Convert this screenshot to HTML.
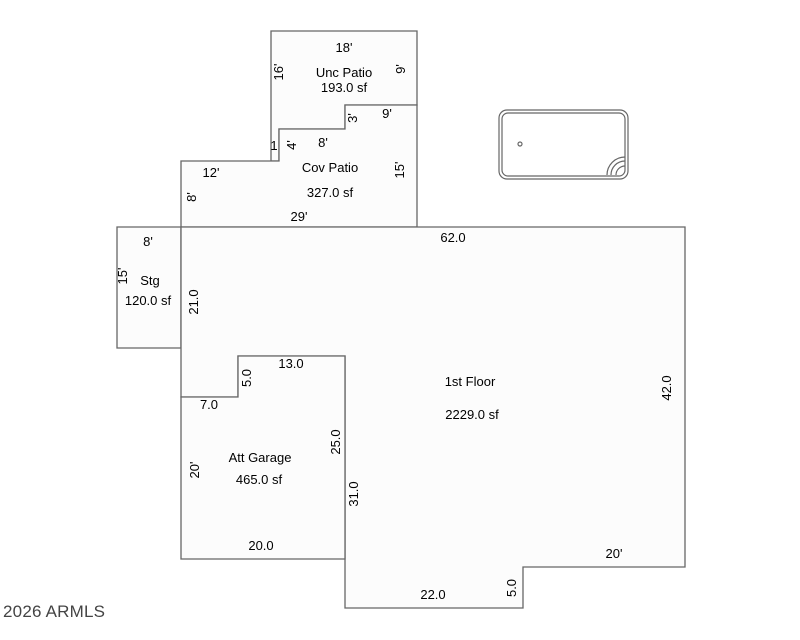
<!DOCTYPE html>
<html><head><style>body{margin:0;background:#fff}svg{display:block}text{font-family:"Liberation Sans","DejaVu Sans",sans-serif;font-size:13px;fill:#000}</style></head><body>
<svg width="800" height="640" viewBox="0 0 800 640">
<g fill="#fcfcfc" stroke="#666" stroke-width="1.3">
<path d="M271,31 H417 V105 H345 V129 H279 V161 H271 Z"/>
<path d="M181,161 H279 V129 H345 V105 H417 V227 H181 Z"/>
<path d="M117,227 H181 V348 H117 Z"/>
<path d="M181,227 H685 V567 H523 V608 H345 V356 H238 V397 H181 Z"/>
<path d="M181,397 H238 V356 H345 V559 H181 Z"/>
</g>
<g fill="none" stroke="#666" stroke-width="1.2">
<rect x="499" y="110" width="129" height="69" rx="8"/>
<rect x="502" y="113" width="123" height="63" rx="6"/>
<circle cx="520" cy="144" r="2"/>
<path d="M625,166 A9,9 0 0 0 616,175 M625,161 A14,14 0 0 0 611,175 M625,157 A18,18 0 0 0 607,175"/>
</g>
<g text-anchor="middle">
<text x="344" y="52">18'</text>
<text x="344" y="77">Unc Patio</text>
<text x="344" y="92">193.0 sf</text>
<text x="387" y="118">9'</text>
<text x="323" y="147">8'</text>
<text x="330" y="172">Cov Patio</text>
<text x="330" y="197">327.0 sf</text>
<text x="211" y="177">12'</text>
<text x="299" y="221">29'</text>
<text x="148" y="246">8'</text>
<text x="150" y="285">Stg</text>
<text x="148" y="305">120.0 sf</text>
<text x="453" y="242">62.0</text>
<text x="291" y="368">13.0</text>
<text x="209" y="409">7.0</text>
<text x="470" y="386">1st Floor</text>
<text x="472" y="419">2229.0 sf</text>
<text x="260" y="462">Att Garage</text>
<text x="259" y="484">465.0 sf</text>
<text x="261" y="550">20.0</text>
<text x="614" y="558">20'</text>
<text x="433" y="599">22.0</text>
<text x="274" y="150">1</text>
<text transform="translate(283,72) rotate(-90)">16'</text>
<text transform="translate(405,69) rotate(-90)">9'</text>
<text transform="translate(357,118) rotate(-90)">3'</text>
<text transform="translate(296,145) rotate(-90)">4'</text>
<text transform="translate(404,170) rotate(-90)">15'</text>
<text transform="translate(196,197) rotate(-90)">8'</text>
<text transform="translate(127,276) rotate(-90)">15'</text>
<text transform="translate(198,302) rotate(-90)">21.0</text>
<text transform="translate(251,378) rotate(-90)">5.0</text>
<text transform="translate(199,470) rotate(-90)">20'</text>
<text transform="translate(340,442) rotate(-90)">25.0</text>
<text transform="translate(358,494) rotate(-90)">31.0</text>
<text transform="translate(671,388) rotate(-90)">42.0</text>
<text transform="translate(516,588) rotate(-90)">5.0</text>
</g>
<text x="3" y="617" style="font-size:17px;fill:#444" textLength="102">2026 ARMLS</text>
</svg>
</body></html>
